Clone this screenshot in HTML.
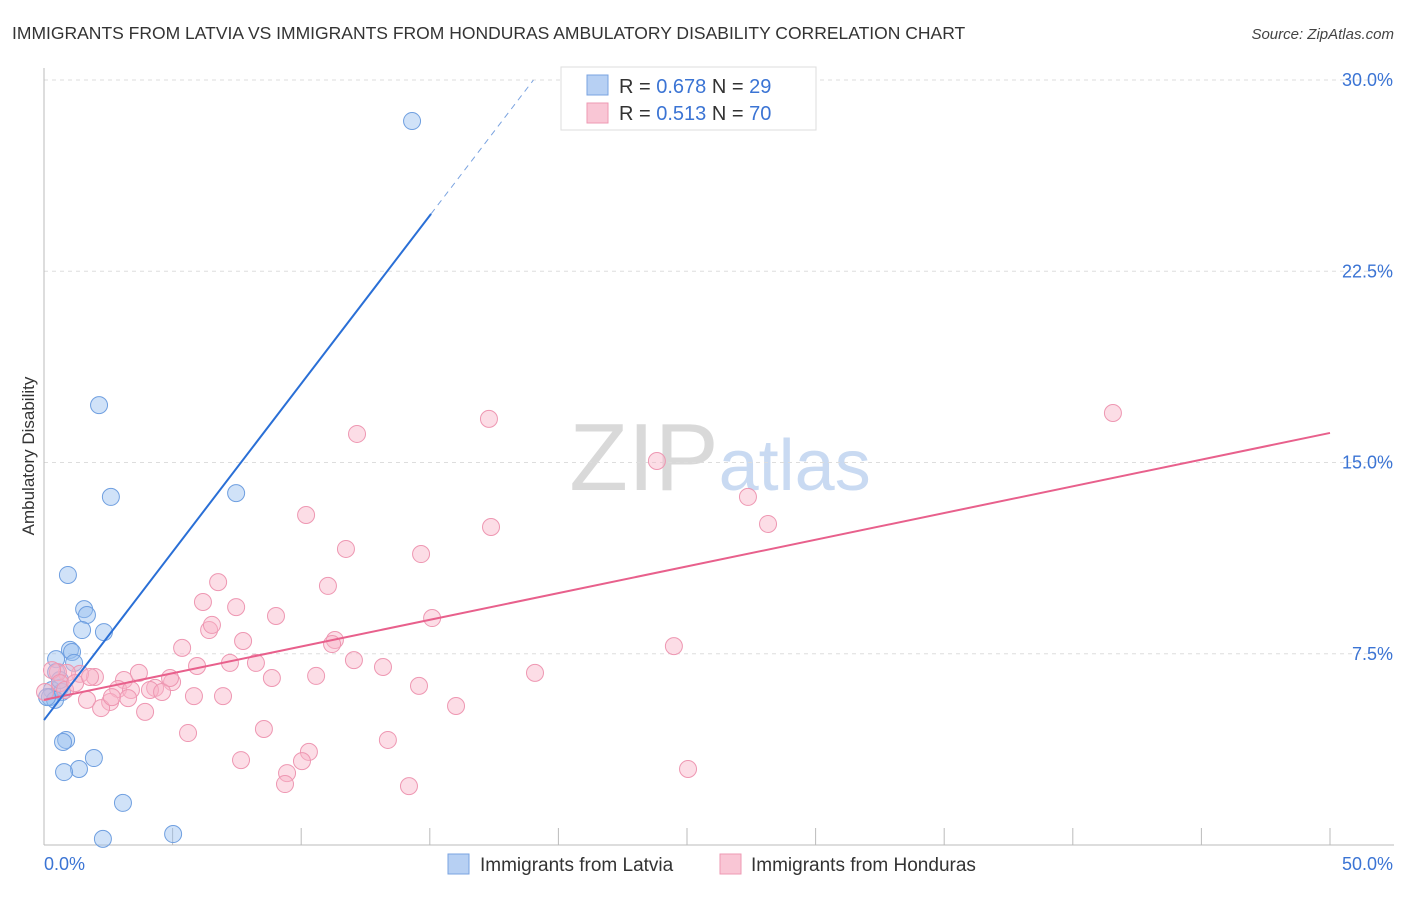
<!DOCTYPE html>
<html><head><meta charset="utf-8"><style>
body{margin:0;background:#fff;font-family:"Liberation Sans",sans-serif;}
svg text{font-family:"Liberation Sans",sans-serif;}
</style></head><body>
<svg id="chart" width="1406" height="892" xmlns="http://www.w3.org/2000/svg">
<text x="12" y="39" font-size="17.5" fill="#333">IMMIGRANTS FROM LATVIA VS IMMIGRANTS FROM HONDURAS AMBULATORY DISABILITY CORRELATION CHART</text>
<text x="1394" y="39" font-size="15" fill="#444" text-anchor="end" font-style="italic">Source: ZipAtlas.com</text>
<text x="720" y="490" font-size="96" fill="#ddd" text-anchor="middle" font-family="Liberation Serif"><tspan fill="#d9d9d9">ZIP</tspan><tspan fill="#c9daf2" font-family="Liberation Sans" font-size="72">atlas</tspan></text>
<text transform="translate(34,456) rotate(-90)" font-size="17" fill="#333" text-anchor="middle">Ambulatory Disability</text>
<g id="grid"></g><g id="axes"></g><g id="marks"></g>
<g>
<rect x="561" y="67" width="255" height="63" fill="#fff" stroke="#ddd"/>
<rect x="587" y="75" width="21" height="20" fill="#b7d0f3" stroke="#7aa3e0"/>
<text x="619" y="93" font-size="20" fill="#333">R = <tspan fill="#3b74d4">0.678</tspan>   N = <tspan fill="#3b74d4">29</tspan></text>
<rect x="587" y="103" width="21" height="20" fill="#f9c6d5" stroke="#ee99b3"/>
<text x="619" y="120" font-size="20" fill="#333">R = <tspan fill="#3b74d4"> 0.513</tspan>   N = <tspan fill="#3b74d4">70</tspan></text>
</g>
<g>
<rect x="448" y="854" width="21" height="20" fill="#b7d0f3" stroke="#7aa3e0"/>
<text x="480" y="871" font-size="19" fill="#333">Immigrants from Latvia</text>
<rect x="720" y="854" width="21" height="20" fill="#f9c6d5" stroke="#ee99b3"/>
<text x="751" y="871" font-size="19" fill="#333">Immigrants from Honduras</text>
</g>
</svg>
<script>
const yTicks=[7.5,15,22.5,30];
const yTickLabels=["7.5%","15.0%","22.5%","30.0%"];
const xTicks=[0,5,10,15,20,25,30,35,40,45,50];
const latviaX=[14.31,2.14,2.60,7.47,0.93,1.56,1.67,1.48,2.33,1.01,1.09,0.47,1.17,0.47,0.62,0.31,0.70,0.23,0.43,0.12,0.86,0.74,1.94,1.36,0.78,3.07,5.02,2.29,0.62];
const latviaY=[28.39,17.25,13.65,13.80,10.59,9.25,9.02,8.43,8.35,7.65,7.57,7.29,7.14,6.78,6.16,6.08,6.00,5.80,5.69,5.80,4.12,4.04,3.41,2.98,2.86,1.65,0.43,0.24,6.47];
const hondX=[41.56,17.30,12.17,23.83,27.37,17.38,28.15,10.19,11.74,14.66,6.77,11.04,6.18,7.47,9.02,15.09,6.42,6.53,7.74,11.31,11.20,5.37,24.49,12.05,5.95,7.23,8.24,13.18,3.69,10.58,19.09,8.86,14.58,3.11,4.98,1.98,1.40,0.89,0.54,0.31,2.88,4.32,3.38,4.12,4.59,5.83,6.96,2.57,1.67,2.22,3.93,16.02,5.60,8.55,7.66,13.37,10.30,10.03,9.45,9.37,14.19,25.04,0.62,0.82,1.21,1.79,4.90,0.04,3.27,2.64];
const hondY=[16.94,16.71,16.12,15.06,13.65,12.47,12.59,12.94,11.61,11.41,10.31,10.16,9.53,9.33,8.98,8.90,8.43,8.63,8.00,8.04,7.88,7.73,7.80,7.25,7.02,7.14,7.14,6.98,6.75,6.63,6.75,6.55,6.24,6.47,6.39,6.59,6.71,6.75,6.78,6.86,6.12,6.16,6.08,6.08,6.00,5.84,5.84,5.61,5.69,5.37,5.22,5.45,4.39,4.55,3.33,4.12,3.65,3.29,2.82,2.39,2.31,2.98,6.35,6.08,6.35,6.59,6.55,6.00,5.76,5.80];
const latviaTrend=[4.90,1.319,15.05];
const hondTrend=[5.69,0.2094];
const NS="http://www.w3.org/2000/svg";
const sx=v=>44+v*25.72, sy=v=>845-v*25.5;
function mk(tag,attrs,parent){const e=document.createElementNS(NS,tag);for(const k in attrs)e.setAttribute(k,attrs[k]);document.getElementById(parent).appendChild(e);return e;}
yTicks.forEach((t,i)=>{
 const l=mk('line',{x1:44,x2:1394,y1:sy(t),y2:sy(t),stroke:'#ddd','stroke-dasharray':'4,4'},'grid');
 
 
 const tx=mk('text',{x:1393,y:sy(t)+6,'font-size':18,fill:'#3b74d4','text-anchor':'end'},'grid');
 tx.textContent=yTickLabels[i];
 
 
});
const ya=mk('line',{x1:44,x2:44,y1:68,y2:845,stroke:'#bbb'},'axes');


const xa=mk('line',{x1:44,x2:1394,y1:845,y2:845,stroke:'#bbb'},'axes');


xTicks.forEach(t=>{
 const l=mk('line',{x1:sx(t),x2:sx(t),y1:828,y2:845,stroke:'#bbb'},'axes');
 
 
});
const xl0=mk('text',{x:44,y:870,'font-size':18,fill:'#3b74d4'},'axes');xl0.textContent='0.0%';


const xl1=mk('text',{x:1393,y:870,'font-size':18,fill:'#3b74d4','text-anchor':'end'},'axes');xl1.textContent='50.0%';


latviaX.forEach((x,i)=>{
 const c=mk('circle',{cx:sx(x),cy:sy(latviaY[i]),r:8.5,fill:'rgba(150,190,240,0.45)',stroke:'#6f9fe0','stroke-width':1},'marks');
 
 
});
hondX.forEach((x,i)=>{
 const c=mk('circle',{cx:sx(x),cy:sy(hondY[i]),r:8.5,fill:'rgba(248,180,200,0.45)',stroke:'#ee97b2','stroke-width':1},'marks');
 
 
});
const ht=mk('line',{x1:sx(0),y1:sy(hondTrend[0]),x2:sx(50),y2:sy(hondTrend[0]+50*hondTrend[1]),stroke:'#e8608c','stroke-width':2},'marks');


const lt=mk('line',{x1:sx(0),y1:sy(latviaTrend[0]),x2:sx(latviaTrend[2]),y2:sy(latviaTrend[0]+latviaTrend[2]*latviaTrend[1]),stroke:'#2a6fd6','stroke-width':2},'marks');


const xe=(30-latviaTrend[0])/latviaTrend[1];
const ld=mk('line',{x1:sx(latviaTrend[2]),y1:sy(latviaTrend[0]+latviaTrend[2]*latviaTrend[1]),x2:sx(xe),y2:sy(30),stroke:'#7aa3e0','stroke-width':1,'stroke-dasharray':'6,5'},'marks');


</script>
</body></html>
